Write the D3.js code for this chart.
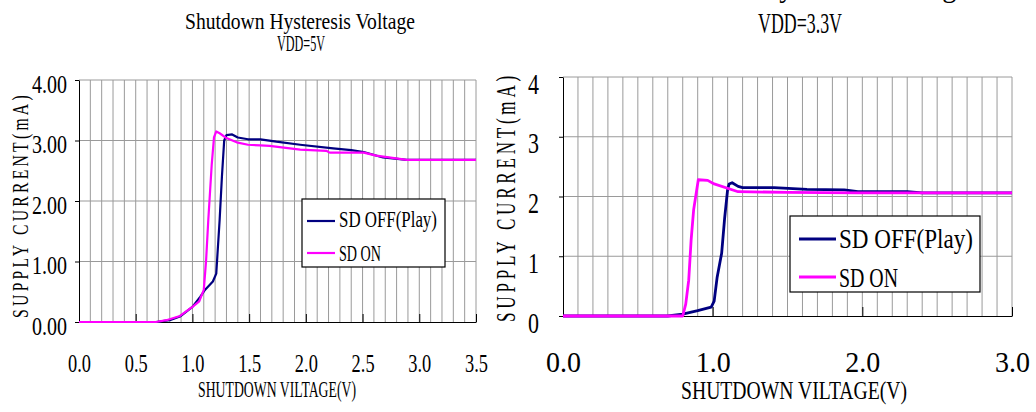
<!DOCTYPE html>
<html><head><meta charset="utf-8">
<script src="https://cdn.jsdelivr.net/npm/d3@7"></script>
<style>body{margin:0;background:#fff;} svg{display:block;}</style>
</head><body><svg id="c" width="1036" height="412"></svg>
<script>
const FONT = "'Liberation Serif', 'DejaVu Serif', serif";
const seriesNames = ["SD OFF(Play)", "SD ON"];
const seriesColors = ["#000080", "#ff00ff"];

// VDD = 5V
const vdd5OffV = [0, 0.68, 0.80, 0.89, 1.00, 1.07, 1.11, 1.18, 1.21, 1.24, 1.26, 1.28, 1.30, 1.35, 1.40, 1.49, 1.60, 1.74, 1.95, 2.24, 2.40, 2.51, 2.68, 2.89, 3.50];
const vdd5OffI = [0, 0, 0.03, 0.09, 0.25, 0.42, 0.53, 0.67, 0.80, 1.69, 2.40, 3.00, 3.09, 3.10, 3.05, 3.02, 3.02, 2.98, 2.93, 2.87, 2.84, 2.81, 2.72, 2.68, 2.68];
const vdd5OnV = [0, 0.68, 0.77, 0.89, 1.00, 1.06, 1.10, 1.12, 1.14, 1.17, 1.19, 1.21, 1.24, 1.30, 1.39, 1.49, 1.60, 1.68, 1.95, 2.18, 2.21, 2.51, 2.62, 2.89, 3.50];
const vdd5OnI = [0, 0, 0.03, 0.10, 0.25, 0.34, 0.53, 1.00, 1.69, 2.60, 3.05, 3.15, 3.12, 3.04, 2.97, 2.93, 2.92, 2.91, 2.85, 2.83, 2.80, 2.80, 2.75, 2.68, 2.68];

// VDD = 3.3V
const vdd33OffV = [0, 0.70, 0.80, 0.90, 0.99, 1.01, 1.03, 1.06, 1.08, 1.10, 1.11, 1.13, 1.17, 1.20, 1.41, 1.63, 1.88, 1.97, 2.30, 2.40, 3.00];
const vdd33OffI = [0, 0, 0.03, 0.09, 0.15, 0.25, 0.65, 1.05, 1.64, 2.12, 2.21, 2.23, 2.17, 2.15, 2.15, 2.12, 2.11, 2.08, 2.08, 2.06, 2.06];
const vdd33OnV = [0, 0.80, 0.82, 0.84, 0.856, 0.873, 0.904, 0.967, 1.01, 1.17, 1.50, 1.97, 3.00];
const vdd33OnI = [0, 0, 0.20, 0.60, 1.27, 1.78, 2.28, 2.27, 2.21, 2.08, 2.07, 2.06, 2.06];

const xTicks5 = [0, 0.5, 1.0, 1.5, 2.0, 2.5, 3.0, 3.5];
const yTicks5 = [0, 1, 2, 3, 4];
const xTicks33 = [0, 1, 2, 3];
const yTicks33 = [0, 1, 2, 3, 4];

const svg = d3.select("#c");

// squeeze a text horizontally to a target width, keeping its height
function fitText(t, w, tx, ty, rot) {
  const len = t.node().getComputedTextLength();
  const sx = len > 0 ? w / len : 1;
  t.attr("x", 0).attr("y", 0).attr("dy", null)
   .attr("transform", `translate(${tx},${ty})${rot ? " rotate(-90)" : ""} scale(${sx},1)`);
}

function label(g, str, x, y, size, anchor, width, rot, spacing) {
  const t = g.append("text")
    .attr("font-family", FONT).attr("font-size", size)
    .attr("text-anchor", anchor).attr("fill", "#000")
    .text(str);
  if (spacing) t.attr("letter-spacing", spacing);
  fitText(t, width, x, y, rot);
  return t;
}

function chart(cfg) {
  const g = svg.append("g");
  const x = d3.scaleLinear().domain(cfg.xDomain).range(cfg.xRange);
  const y = d3.scaleLinear().domain([0, 4]).range(cfg.yRange);
  const xmax = cfg.xDomain[1];
  // vertical grid every 0.1 V
  const gx = d3.range(1, Math.round(xmax * 10) + 1).map(i => i / 10);
  g.append("g").selectAll("line").data(gx).join("line")
    .attr("x1", d => x(d)).attr("x2", d => x(d))
    .attr("y1", y(0)).attr("y2", y(4))
    .attr("stroke", "#9a9a9a").attr("stroke-width", 1);
  g.append("g").selectAll("line").data(cfg.yTicks.filter(d => d > 0)).join("line")
    .attr("x1", x(0)).attr("x2", x(xmax))
    .attr("y1", d => y(d)).attr("y2", d => y(d))
    .attr("stroke", "#9a9a9a").attr("stroke-width", 1);

  // axes
  const ax = g.append("g").attr("transform", `translate(0,${y(0)})`)
    .call(d3.axisBottom(x).tickValues(cfg.xTicks).tickFormat(d3.format(".1f"))
      .tickSize(-cfg.xTickLen).tickSizeOuter(0));
  ax.select(".domain").attr("stroke", "#000");
  ax.selectAll(".tick line").attr("stroke", "#000");
  ax.attr("font-family", FONT).attr("font-size", cfg.xTickSize);
  ax.selectAll(".tick text").attr("fill", "#000").attr("text-anchor", "middle")
    .each(function () { fitText(d3.select(this), cfg.xTickW, 0, cfg.xTickY); });

  const ay = g.append("g").attr("transform", `translate(${x(0)},0)`)
    .call(d3.axisLeft(y).tickValues(cfg.yTicks).tickFormat(d3.format(cfg.yFmt))
      .tickSize(4).tickPadding(cfg.yPad).tickSizeOuter(0));
  ay.select(".domain").attr("stroke", "#000");
  ay.selectAll(".tick line").attr("stroke", "#000");
  ay.attr("font-family", FONT).attr("font-size", cfg.yTickSize);
  ay.selectAll(".tick text").attr("fill", "#000").attr("text-anchor", "end")
    .each(function () { fitText(d3.select(this), cfg.yTickW, -(4 + cfg.yPad), cfg.yTickDy); });

  // series
  const line = d3.line().x(d => x(d[0])).y(d => y(d[1]));
  cfg.series.forEach((s, i) => {
    const pts = s.v.map((v, k) => [v, s.i[k]]);
    g.append("path").attr("d", line(pts)).attr("fill", "none")
      .attr("stroke", seriesColors[i]).attr("stroke-width", cfg.lw)
      .attr("stroke-linejoin", "round");
  });

  // titles
  cfg.titles.forEach(t => label(g, t.s, t.x, t.y, t.size, "middle", t.w));
  label(g, "SHUTDOWN VILTAGE(V)", cfg.xt.x, cfg.xt.y, cfg.xt.size, "middle", cfg.xt.w);
  label(g, "SUPPLY CURRENT(mA)", cfg.yt.x, cfg.yt.y, cfg.yt.size, "middle", cfg.yt.w, true, cfg.yt.ls);

  // legend
  const L = cfg.legend;
  g.append("rect").attr("x", L.x).attr("y", L.y).attr("width", L.w).attr("height", L.h)
    .attr("fill", "#fff").attr("stroke", "#000").attr("stroke-width", 1.2);
  seriesNames.forEach((n, i) => {
    g.append("line").attr("x1", L.lx1).attr("x2", L.lx2)
      .attr("y1", L.ly[i]).attr("y2", L.ly[i])
      .attr("stroke", seriesColors[i]).attr("stroke-width", cfg.lw);
    label(g, n, L.tx, L.ty[i], L.size, "start", L.tw[i]);
  });
}

chart({
  xDomain: [0, 3.5], xRange: [79, 476], yRange: [322, 80],
  xTicks: xTicks5, yTicks: yTicks5, yFmt: ".2f",
  xTickLen: 8, xTickSize: 25, xTickY: 50, xTickW: 23,
  yTickSize: 25, yPad: 8, yTickDy: 12, yTickW: 35,
  lw: 2.2,
  series: [{v: vdd5OffV, i: vdd5OffI}, {v: vdd5OnV, i: vdd5OnI}],
  titles: [
    {s: "Shutdown Hysteresis Voltage", x: 300, y: 29, size: 24, w: 230},
    {s: "VDD=5V", x: 301, y: 51, size: 23, w: 48}
  ],
  xt: {x: 277, y: 397, size: 24, w: 158},
  yt: {x: 28, y: 205, size: 24, w: 226, ls: 5},
  legend: {x: 302, y: 199, w: 143, h: 68, lx1: 307, lx2: 335, ly: [221, 253],
           tx: 339, ty: [227, 261], size: 23, tw: [98, 42]}
});

chart({
  xDomain: [0, 3.0], xRange: [563, 1012], yRange: [316, 77],
  xTicks: xTicks33, yTicks: yTicks33, yFmt: "d",
  xTickLen: 9, xTickSize: 30, xTickY: 56, xTickW: 35,
  yTickSize: 30, yPad: 20, yTickDy: 16, yTickW: 11,
  lw: 2.8,
  series: [{v: vdd33OffV, i: vdd33OffI}, {v: vdd33OnV, i: vdd33OnI}],
  titles: [
    {s: "Shutdown Hysteresis Voltage", x: 803, y: -3, size: 30, w: 332},
    {s: "VDD=3.3V", x: 800, y: 33, size: 30, w: 84}
  ],
  xt: {x: 794, y: 399, size: 26, w: 226},
  yt: {x: 515, y: 197, size: 27, w: 250, ls: 6},
  legend: {x: 790, y: 216, w: 190, h: 76, lx1: 799, lx2: 836, ly: [239, 277],
           tx: 839, ty: [248, 287], size: 27, tw: [134, 59]}
});
</script>
</body></html>
